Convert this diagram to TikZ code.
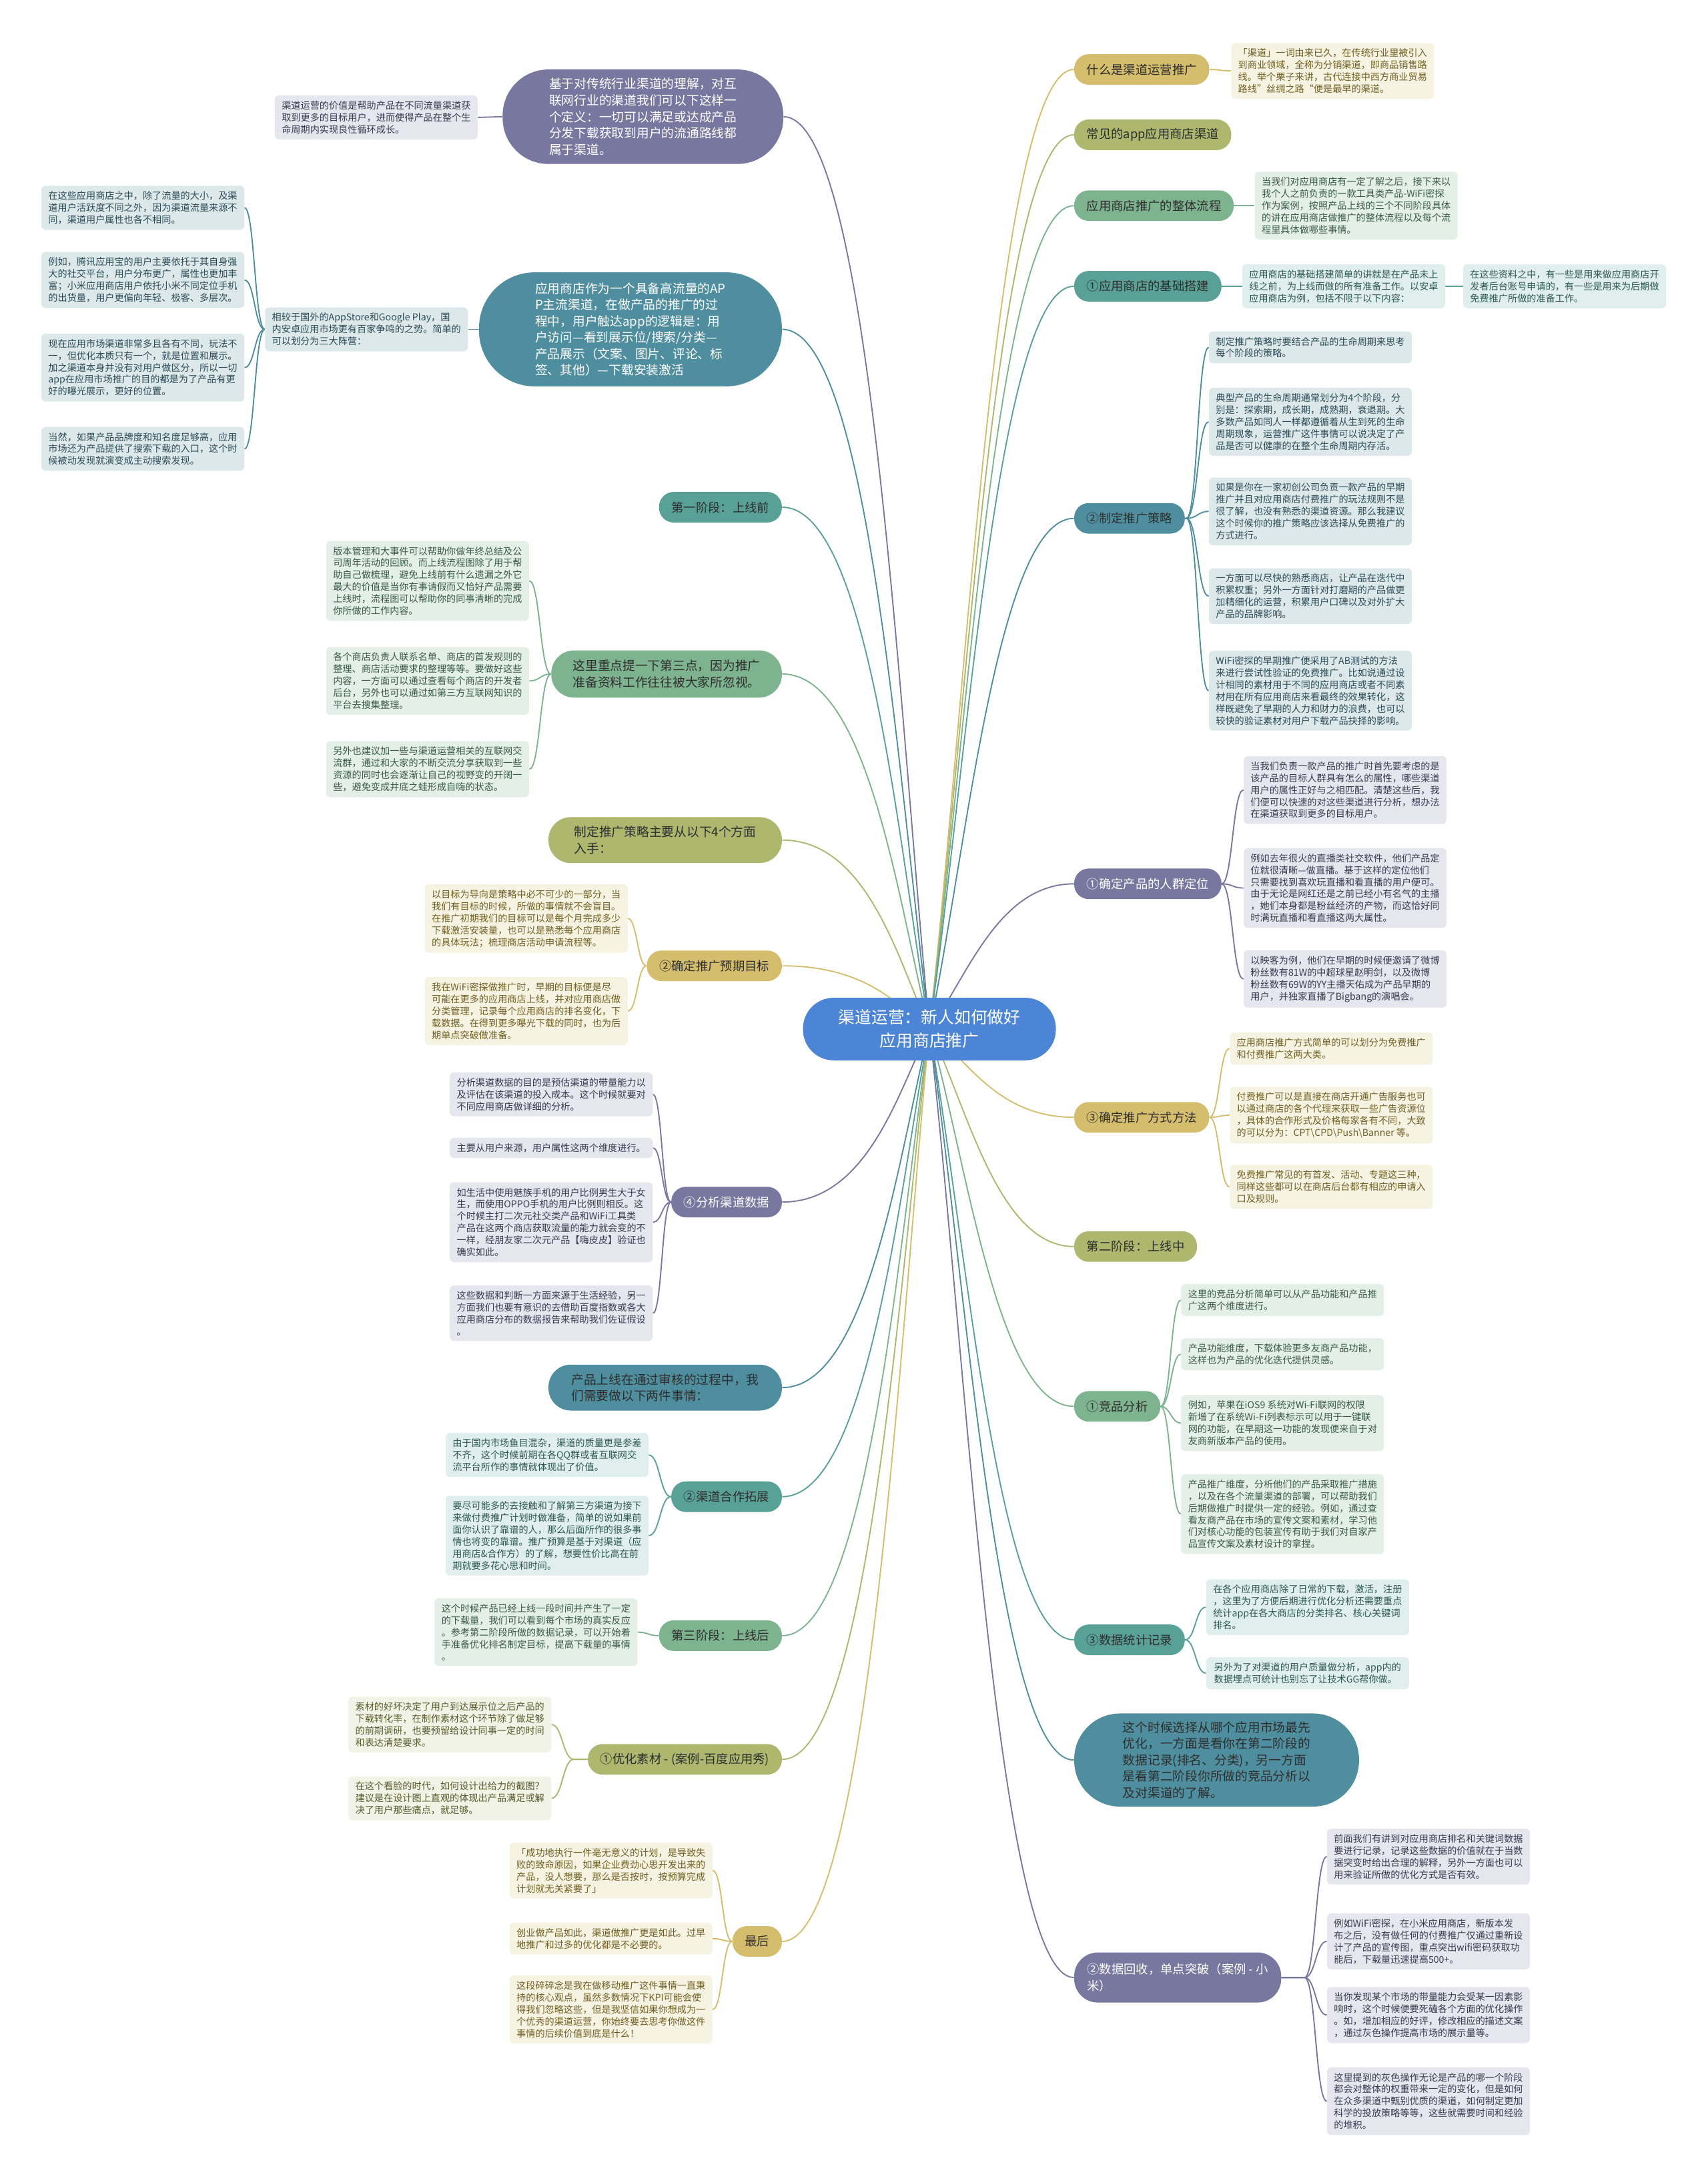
\documentclass[tikz,border=0pt]{standalone}
\usepackage{fontspec}
\setmainfont{Noto Sans CJK SC}
\usetikzlibrary{calc}
\pgfdeclarelayer{bg}
\pgfsetlayers{bg,main}
\definecolor{cRoot}{HTML}{4C84D6}
\definecolor{cGold}{HTML}{D4BD6C}
\definecolor{cOlive}{HTML}{ADB76E}
\definecolor{cGreen}{HTML}{7DB38F}
\definecolor{cTeal}{HTML}{59A097}
\definecolor{cBlue}{HTML}{4F8E9E}
\definecolor{cPurple}{HTML}{77779F}
\definecolor{cDark}{HTML}{2E2E2E}
\definecolor{lGold}{HTML}{F6F3E2}
\definecolor{lOlive}{HTML}{F2F3E7}
\definecolor{lGreen}{HTML}{E4EFE8}
\definecolor{lTeal}{HTML}{E0EEED}
\definecolor{lBlue}{HTML}{DDE8EB}
\definecolor{lPurple}{HTML}{E6E6EE}
\definecolor{tGold}{HTML}{6F5F22}
\definecolor{tOlive}{HTML}{585C2C}
\definecolor{tGreen}{HTML}{3B5A46}
\definecolor{tTeal}{HTML}{2D5853}
\definecolor{tBlue}{HTML}{2D4C56}
\definecolor{tPurple}{HTML}{3A3A50}
\tikzset{
  leaf/.style={font=\fontsize{6.8}{8.6}\selectfont, inner xsep=4pt, inner ysep=4pt, minimum width=146pt, rounded corners=3pt, align=left},
  br/.style={font=\fontsize{8.8}{11.6}\selectfont, inner xsep=9pt, inner ysep=2pt, minimum height=22pt, rounded corners=10.5pt, align=left},
  big/.style={font=\fontsize{9}{11.8}\selectfont, inner sep=0pt, align=left},
  bGold/.style={fill=cGold, text=cDark},
  bOlive/.style={fill=cOlive, text=cDark},
  bGreen/.style={fill=cGreen, text=cDark},
  bTeal/.style={fill=cTeal, text=cDark},
  bBlue/.style={fill=cBlue, text=cDark},
  bBlueW/.style={fill=cBlue, text=white},
  bPurple/.style={fill=cPurple, text=white},
  lfGold/.style={leaf, fill=lGold, text=tGold},
  lfOlive/.style={leaf, fill=lOlive, text=tOlive},
  lfGreen/.style={leaf, fill=lGreen, text=tGreen},
  lfTeal/.style={leaf, fill=lTeal, text=tTeal},
  lfBlue/.style={leaf, fill=lBlue, text=tBlue},
  lfPurple/.style={leaf, fill=lPurple, text=tPurple},
  eGold/.style={draw=cGold, line width=0.9pt},
  eOlive/.style={draw=cOlive, line width=0.9pt},
  eGreen/.style={draw=cGreen, line width=0.9pt},
  eTeal/.style={draw=cTeal, line width=0.9pt},
  eBlue/.style={draw=cBlue, line width=0.9pt},
  ePurple/.style={draw=cPurple, line width=0.9pt},
}
\newcommand\rootR[2]{\draw[#1] let \p1=(root.center), \p2=(#2.west) in (\p1) .. controls ({\x1+27pt},{\y1+0.35*(\y2-\y1)}) and ({\x2-55pt},\y2) .. (\p2);}
\newcommand\rootL[2]{\draw[#1] let \p1=(root.center), \p2=(#2.east) in (\p1) .. controls ({\x1-22pt},{\y1+0.35*(\y2-\y1)}) and ({\x2+62pt},\y2) .. (\p2);}
\newcommand\leafR[3]{\draw[#1] let \p1=(#2.east), \p2=(#3.west), \n1={max(\x1,\x2-16pt)}, \n2={\x2-0.5*(\x2-\n1)} in (\p1) -- ({\n1*1pt},\y1) .. controls ({\n2*1pt},\y1) and ({\n2*1pt},\y2) .. (\p2);}
\newcommand\leafL[3]{\draw[#1] let \p1=(#2.west), \p2=(#3.east), \n1={min(\x1,\x2+16pt)}, \n2={\x2+0.5*(\n1-\x2)} in (\p1) -- ({\n1*1pt},\y1) .. controls ({\n2*1pt},\y1) and ({\n2*1pt},\y2) .. (\p2);}
\begin{document}
\begin{tikzpicture}[x=1pt,y=-1pt]
\begin{pgfonlayer}{bg}
\fill[white] (0,0) rectangle (1229,1568);
\end{pgfonlayer}
\useasboundingbox (0,0) rectangle (1229,1568);

% root
\node[fill=cRoot, text=white, font=\fontsize{11.9}{16.7}\selectfont, align=center, minimum width=182pt, minimum height=45pt, rounded corners=22pt, inner sep=0pt] (root) at (669,740.5) {渠道运营：新人如何做好\\应用商店推广};

% ---------------- right side ----------------
\node[br,bGold,anchor=west] (r1) at (773,50) {什么是渠道运营推广};
\node[lfGold,anchor=west] (r1a) at (886,51) {「渠道」一词由来已久，在传统行业里被引入\\到商业领域，全称为分销渠道，即商品销售路\\线。举个栗子来讲，古代连接中西方商业贸易\\路线”丝绸之路“便是最早的渠道。};

\node[br,bOlive,anchor=west] (r2) at (773,97) {常见的app应用商店渠道};

\node[br,bGreen,anchor=west] (r3) at (773,148) {应用商店推广的整体流程};
\node[lfGreen,anchor=west] (r3a) at (903,148) {当我们对应用商店有一定了解之后，接下来以\\我个人之前负责的一款工具类产品-WiFi密探\\作为案例，按照产品上线的三个不同阶段具体\\的讲在应用商店做推广的整体流程以及每个流\\程里具体做哪些事情。};

\node[br,bTeal,anchor=west] (r4) at (773,206) {①应用商店的基础搭建};
\node[lfTeal,anchor=west] (r4a) at (894,206) {应用商店的基础搭建简单的讲就是在产品未上\\线之前，为上线而做的所有准备工作。以安卓\\应用商店为例，包括不限于以下内容：};
\node[lfTeal,anchor=west] (r4b) at (1053,206) {在这些资料之中，有一些是用来做应用商店开\\发者后台账号申请的，有一些是用来为后期做\\免费推广所做的准备工作。};

\node[br,bBlue,anchor=west] (r5) at (773,373) {②制定推广策略};
\node[lfBlue,anchor=west] (r5a) at (870,250) {制定推广策略时要结合产品的生命周期来思考\\每个阶段的策略。};
\node[lfBlue,anchor=west] (r5b) at (870,303.5) {典型产品的生命周期通常划分为4个阶段，分\\别是：探索期，成长期，成熟期，衰退期。大\\多数产品如同人一样都遵循着从生到死的生命\\周期现象，运营推广这件事情可以说决定了产\\品是否可以健康的在整个生命周期内存活。};
\node[lfBlue,anchor=west] (r5c) at (870,368) {如果是你在一家初创公司负责一款产品的早期\\推广并且对应用商店付费推广的玩法规则不是\\很了解，也没有熟悉的渠道资源。那么我建议\\这个时候你的推广策略应该选择从免费推广的\\方式进行。};
\node[lfBlue,anchor=west] (r5d) at (870,429) {一方面可以尽快的熟悉商店，让产品在迭代中\\积累权重；另外一方面针对打磨期的产品做更\\加精细化的运营，积累用户口碑以及对外扩大\\产品的品牌影响。};
\node[lfBlue,anchor=west] (r5e) at (870,497) {WiFi密探的早期推广便采用了AB测试的方法\\来进行尝试性验证的免费推广。比如说通过设\\计相同的素材用于不同的应用商店或者不同素\\材用在所有应用商店来看最终的效果转化，这\\样既避免了早期的人力和财力的浪费，也可以\\较快的验证素材对用户下载产品抉择的影响。};

\node[br,bPurple,anchor=west] (r6) at (773,636) {①确定产品的人群定位};
\node[lfPurple,anchor=west] (r6a) at (895,568.5) {当我们负责一款产品的推广时首先要考虑的是\\该产品的目标人群具有怎么的属性，哪些渠道\\用户的属性正好与之相匹配。清楚这些后，我\\们便可以快速的对这些渠道进行分析，想办法\\在渠道获取到更多的目标用户。};
\node[lfPurple,anchor=west] (r6b) at (895,639) {例如去年很火的直播类社交软件，他们产品定\\位就很清晰—做直播。基于这样的定位他们\\只需要找到喜欢玩直播和看直播的用户便可。\\由于无论是网红还是之前已经小有名气的主播\\，她们本身都是粉丝经济的产物，而这恰好同\\时满玩直播和看直播这两大属性。};
\node[lfPurple,anchor=west] (r6c) at (895,704.5) {以映客为例，他们在早期的时候便邀请了微博\\粉丝数有81W的中超球星赵明剑，以及微博\\粉丝数有69W的YY主播天佑成为产品早期的\\用户，并独家直播了Bigbang的演唱会。};

\node[br,bGold,anchor=west] (r7) at (773,804) {③确定推广方式方法};
\node[lfGold,anchor=west] (r7a) at (885,754.5) {应用商店推广方式简单的可以划分为免费推广\\和付费推广这两大类。};
\node[lfGold,anchor=west] (r7b) at (885,802.5) {付费推广可以是直接在商店开通广告服务也可\\以通过商店的各个代理来获取一些广告资源位\\，具体的合作形式及价格每家各有不同，大致\\的可以分为：CPT\textbackslash CPD\textbackslash Push\textbackslash Banner 等。};
\node[lfGold,anchor=west] (r7c) at (885,854) {免费推广常见的有首发、活动、专题这三种，\\同样这些都可以在商店后台都有相应的申请入\\口及规则。};

\node[br,bOlive,anchor=west] (r8) at (773,897) {第二阶段：上线中};

\node[br,bGreen,anchor=west] (r9) at (773,1012) {①竞品分析};
\node[lfGreen,anchor=west] (r9a) at (850,935.5) {这里的竞品分析简单可以从产品功能和产品推\\广这两个维度进行。};
\node[lfGreen,anchor=west] (r9b) at (850,974.5) {产品功能维度，下载体验更多友商产品功能，\\这样也为产品的优化迭代提供灵感。};
\node[lfGreen,anchor=west] (r9c) at (850,1024) {例如，苹果在iOS9 系统对Wi-Fi联网的权限\\新增了在系统Wi-Fi列表标示可以用于一键联\\网的功能，在早期这一功能的发现便来自于对\\友商新版本产品的使用。};
\node[lfGreen,anchor=west] (r9d) at (850,1089.5) {产品推广维度，分析他们的产品采取推广措施\\，以及在各个流量渠道的部署，可以帮助我们\\后期做推广时提供一定的经验。例如，通过查\\看友商产品在市场的宣传文案和素材，学习他\\们对核心功能的包装宣传有助于我们对自家产\\品宣传文案及素材设计的拿捏。};

\node[br,bTeal,anchor=west] (r10) at (773,1180) {③数据统计记录};
\node[lfTeal,anchor=west] (r10a) at (868,1156.5) {在各个应用商店除了日常的下载，激活，注册\\，这里为了方便后期进行优化分析还需要重点\\统计app在各大商店的分类排名、核心关键词\\排名。};
\node[lfTeal,anchor=west] (r10b) at (868,1204) {另外为了对渠道的用户质量做分析，app内的\\数据埋点可统计也别忘了让技术GG帮你做。};

\node[big,bBlue,anchor=west,minimum width=205pt,minimum height=67pt,rounded corners=33pt] (r11) at (773,1266.5) {这个时候选择从哪个应用市场最先\\优化，一方面是看你在第二阶段的\\数据记录(排名、分类)，另一方面\\是看第二阶段你所做的竞品分析以\\及对渠道的了解。};

\node[br,bPurple,anchor=west,minimum width=149pt,minimum height=36pt,rounded corners=17pt] (r12) at (773,1423) {②数据回收，单点突破（案例 - 小\\米）};
\node[lfPurple,anchor=west] (r12a) at (955,1336) {前面我们有讲到对应用商店排名和关键词数据\\要进行记录，记录这些数据的价值就在于当数\\据突变时给出合理的解释，另外一方面也可以\\用来验证所做的优化方式是否有效。};
\node[lfPurple,anchor=west] (r12b) at (955,1397) {例如WiFi密探，在小米应用商店，新版本发\\布之后，没有做任何的付费推广仅通过重新设\\计了产品的宣传图，重点突出wifi密码获取功\\能后，下载量迅速提高500+。};
\node[lfPurple,anchor=west] (r12c) at (955,1450) {当你发现某个市场的带量能力会受某一因素影\\响时，这个时候便要死磕各个方面的优化操作\\。如，增加相应的好评，修改相应的描述文案\\，通过灰色操作提高市场的展示量等。};
\node[lfPurple,anchor=west] (r12d) at (955,1512) {这里提到的灰色操作无论是产品的哪一个阶段\\都会对整体的权重带来一定的变化，但是如何\\在众多渠道中甄别优质的渠道，如何制定更加\\科学的投放策略等等，这些就需要时间和经验\\的堆积。};

% ---------------- left side ----------------
\node[big,bPurple,anchor=east,minimum width=202pt,minimum height=68pt,rounded corners=33pt] (l1) at (564,84) {基于对传统行业渠道的理解，对互\\联网行业的渠道我们可以下这样一\\个定义：一切可以满足或达成产品\\分发下载获取到用户的流通路线都\\属于渠道。};
\node[lfPurple,anchor=east] (l1a) at (344,84.5) {渠道运营的价值是帮助产品在不同流量渠道获\\取到更多的目标用户，进而使得产品在整个生\\命周期内实现良性循环成长。};

\node[big,bBlueW,anchor=east,minimum width=218pt,minimum height=82pt,rounded corners=40pt] (l2) at (563,237) {应用商店作为一个具备高流量的AP\\P主流渠道，在做产品的推广的过\\程中，用户触达app的逻辑是：用\\户访问—看到展示位/搜索/分类—\\产品展示（文案、图片、评论、标\\签、其他）—下载安装激活};
\node[lfBlue,anchor=east] (l2a) at (337,237) {相较于国外的AppStore和Google Play，国\\内安卓应用市场更有百家争鸣的之势。简单的\\可以划分为三大阵营：};
\node[lfBlue,anchor=east] (l2b) at (176,149.5) {在这些应用商店之中，除了流量的大小，及渠\\道用户活跃度不同之外，因为渠道流量来源不\\同，渠道用户属性也各不相同。};
\node[lfBlue,anchor=east] (l2c) at (176,201.5) {例如，腾讯应用宝的用户主要依托于其自身强\\大的社交平台，用户分布更广，属性也更加丰\\富；小米应用商店用户依托小米不同定位手机\\的出货量，用户更偏向年轻、极客、多层次。};
\node[lfBlue,anchor=east] (l2d) at (176,264.5) {现在应用市场渠道非常多且各有不同，玩法不\\一，但优化本质只有一个，就是位置和展示。\\加之渠道本身并没有对用户做区分，所以一切\\app在应用市场推广的目的都是为了产品有更\\好的曝光展示，更好的位置。};
\node[lfBlue,anchor=east] (l2e) at (176,323) {当然，如果产品品牌度和知名度足够高，应用\\市场还为产品提供了搜索下载的入口，这个时\\候被动发现就演变成主动搜索发现。};

\node[br,bTeal,anchor=east] (l3) at (563,365) {第一阶段：上线前};

\node[big,bGreen,anchor=east,minimum width=166pt,minimum height=34pt,rounded corners=16.5pt] (l4) at (563,485) {这里重点提一下第三点，因为推广\\准备资料工作往往被大家所忽视。};
\node[lfGreen,anchor=east] (l4a) at (381,418) {版本管理和大事件可以帮助你做年终总结及公\\司周年活动的回顾。而上线流程图除了用于帮\\助自己做梳理，避免上线前有什么遗漏之外它\\最大的价值是当你有事请假而又恰好产品需要\\上线时，流程图可以帮助你的同事清晰的完成\\你所做的工作内容。};
\node[lfGreen,anchor=east] (l4b) at (381,490) {各个商店负责人联系名单、商店的首发规则的\\整理、商店活动要求的整理等等。要做好这些\\内容，一方面可以通过查看每个商店的开发者\\后台，另外也可以通过如第三方互联网知识的\\平台去搜集整理。};
\node[lfGreen,anchor=east] (l4c) at (381,553.5) {另外也建议加一些与渠道运营相关的互联网交\\流群，通过和大家的不断交流分享获取到一些\\资源的同时也会逐渐让自己的视野变的开阔一\\些，避免变成井底之蛙形成自嗨的状态。};

\node[big,bOlive,anchor=east,minimum width=168pt,minimum height=33pt,rounded corners=16pt] (l5) at (563,604.5) {制定推广策略主要从以下4个方面\\入手：};

\node[br,bGold,anchor=east] (l6) at (563,695) {②确定推广预期目标};
\node[lfGold,anchor=east] (l6a) at (452,661) {以目标为导向是策略中必不可少的一部分，当\\我们有目标的时候，所做的事情就不会盲目。\\在推广初期我们的目标可以是每个月完成多少\\下载激活安装量，也可以是熟悉每个应用商店\\的具体玩法；梳理商店活动申请流程等。};
\node[lfGold,anchor=east] (l6b) at (452,727.5) {我在WiFi密探做推广时，早期的目标便是尽\\可能在更多的应用商店上线，并对应用商店做\\分类管理，记录每个应用商店的排名变化，下\\载数据。在得到更多曝光下载的同时，也为后\\期单点突破做准备。};

\node[br,bPurple,anchor=east] (l7) at (563,865) {④分析渠道数据};
\node[lfPurple,anchor=east] (l7a) at (470,787.5) {分析渠道数据的目的是预估渠道的带量能力以\\及评估在该渠道的投入成本。这个时候就要对\\不同应用商店做详细的分析。};
\node[lfPurple,anchor=east] (l7b) at (470,826) {主要从用户来源，用户属性这两个维度进行。};
\node[lfPurple,anchor=east] (l7c) at (470,879.5) {如生活中使用魅族手机的用户比例男生大于女\\生，而使用OPPO手机的用户比例则相反。这\\个时候主打二次元社交类产品和WiFi工具类\\产品在这两个商店获取流量的能力就会变的不\\一样，经朋友家二次元产品【嗨皮皮】验证也\\确实如此。};
\node[lfPurple,anchor=east] (l7d) at (470,945) {这些数据和判断一方面来源于生活经验，另一\\方面我们也要有意识的去借助百度指数或各大\\应用商店分布的数据报告来帮助我们佐证假设\\。};

\node[big,bBlue,anchor=east,minimum width=168pt,minimum height=33pt,rounded corners=16pt] (l8) at (563,998.5) {产品上线在通过审核的过程中，我\\们需要做以下两件事情：};

\node[br,bTeal,anchor=east] (l9) at (563,1077) {②渠道合作拓展};
\node[lfTeal,anchor=east] (l9a) at (467,1047) {由于国内市场鱼目混杂，渠道的质量更是参差\\不齐，这个时候前期在各QQ群或者互联网交\\流平台所作的事情就体现出了价值。};
\node[lfTeal,anchor=east] (l9b) at (467,1105) {要尽可能多的去接触和了解第三方渠道为接下\\来做付费推广计划时做准备，简单的说如果前\\面你认识了靠谱的人，那么后面所作的很多事\\情也将变的靠谱。推广预算是基于对渠道（应\\用商店\&合作方）的了解，想要性价比高在前\\期就要多花心思和时间。};

\node[br,bGreen,anchor=east] (l10) at (563,1177) {第三阶段：上线后};
\node[lfGreen,anchor=east] (l10a) at (459,1174.5) {这个时候产品已经上线一段时间并产生了一定\\的下载量，我们可以看到每个市场的真实反应\\。参考第二阶段所做的数据记录，可以开始着\\手准备优化排名制定目标，提高下载量的事情\\。};

\node[br,bOlive,anchor=east] (l11) at (563,1266) {①优化素材 - (案例-百度应用秀)};
\node[lfOlive,anchor=east] (l11a) at (397,1241) {素材的好坏决定了用户到达展示位之后产品的\\下载转化率，在制作素材这个环节除了做足够\\的前期调研，也要预留给设计同事一定的时间\\和表达清楚要求。};
\node[lfOlive,anchor=east] (l11b) at (397,1294) {在这个看脸的时代，如何设计出给力的截图？\\建议是在设计图上直观的体现出产品满足或解\\决了用户那些痛点，就足够。};

\node[br,bGold,anchor=east] (l12) at (563,1397) {最后};
\node[lfGold,anchor=east] (l12a) at (513,1346) {「成功地执行一件毫无意义的计划，是导致失\\败的致命原因，如果企业费劲心思开发出来的\\产品，没人想要，那么是否按时，按预算完成\\计划就无关紧要了」};
\node[lfGold,anchor=east] (l12b) at (513,1395) {创业做产品如此，渠道做推广更是如此。过早\\地推广和过多的优化都是不必要的。};
\node[lfGold,anchor=east] (l12c) at (513,1446) {这段碎碎念是我在做移动推广这件事情一直秉\\持的核心观点，虽然多数情况下KPI可能会使\\得我们忽略这些，但是我坚信如果你想成为一\\个优秀的渠道运营，你始终要去思考你做这件\\事情的后续价值到底是什么！};

% ---------------- connectors ----------------
\begin{pgfonlayer}{bg}
\rootR{eGold}{r1}
\rootR{eOlive}{r2}
\rootR{eGreen}{r3}
\rootR{eTeal}{r4}
\rootR{eBlue}{r5}
\rootR{ePurple}{r6}
\rootR{eGold}{r7}
\rootR{eOlive}{r8}
\rootR{eGreen}{r9}
\rootR{eTeal}{r10}
\rootR{eBlue}{r11}
\rootR{ePurple}{r12}
\rootL{ePurple}{l1}
\rootL{eBlue}{l2}
\rootL{eTeal}{l3}
\rootL{eGreen}{l4}
\rootL{eOlive}{l5}
\rootL{eGold}{l6}
\rootL{ePurple}{l7}
\rootL{eBlue}{l8}
\rootL{eTeal}{l9}
\rootL{eGreen}{l10}
\rootL{eOlive}{l11}
\rootL{eGold}{l12}

\leafR{eGold}{r1}{r1a}
\leafR{eGreen}{r3}{r3a}
\leafR{eTeal}{r4}{r4a}
\leafR{eTeal}{r4a}{r4b}
\foreach \k in {a,b,c,d,e} {\leafR{eBlue}{r5}{r5\k}}
\foreach \k in {a,b,c} {\leafR{ePurple}{r6}{r6\k}}
\foreach \k in {a,b,c} {\leafR{eGold}{r7}{r7\k}}
\foreach \k in {a,b,c,d} {\leafR{eGreen}{r9}{r9\k}}
\foreach \k in {a,b} {\leafR{eTeal}{r10}{r10\k}}
\foreach \k in {a,b,c,d} {\leafR{ePurple}{r12}{r12\k}}

\leafL{ePurple}{l1}{l1a}
\leafL{eBlue}{l2}{l2a}
\foreach \k in {b,c,d,e} {\leafL{eBlue}{l2a}{l2\k}}
\foreach \k in {a,b,c} {\leafL{eGreen}{l4}{l4\k}}
\foreach \k in {a,b} {\leafL{eGold}{l6}{l6\k}}
\foreach \k in {a,b,c,d} {\leafL{ePurple}{l7}{l7\k}}
\foreach \k in {a,b} {\leafL{eTeal}{l9}{l9\k}}
\leafL{eGreen}{l10}{l10a}
\foreach \k in {a,b} {\leafL{eOlive}{l11}{l11\k}}
\foreach \k in {a,b,c} {\leafL{eGold}{l12}{l12\k}}
\end{pgfonlayer}
\end{tikzpicture}
\end{document}
